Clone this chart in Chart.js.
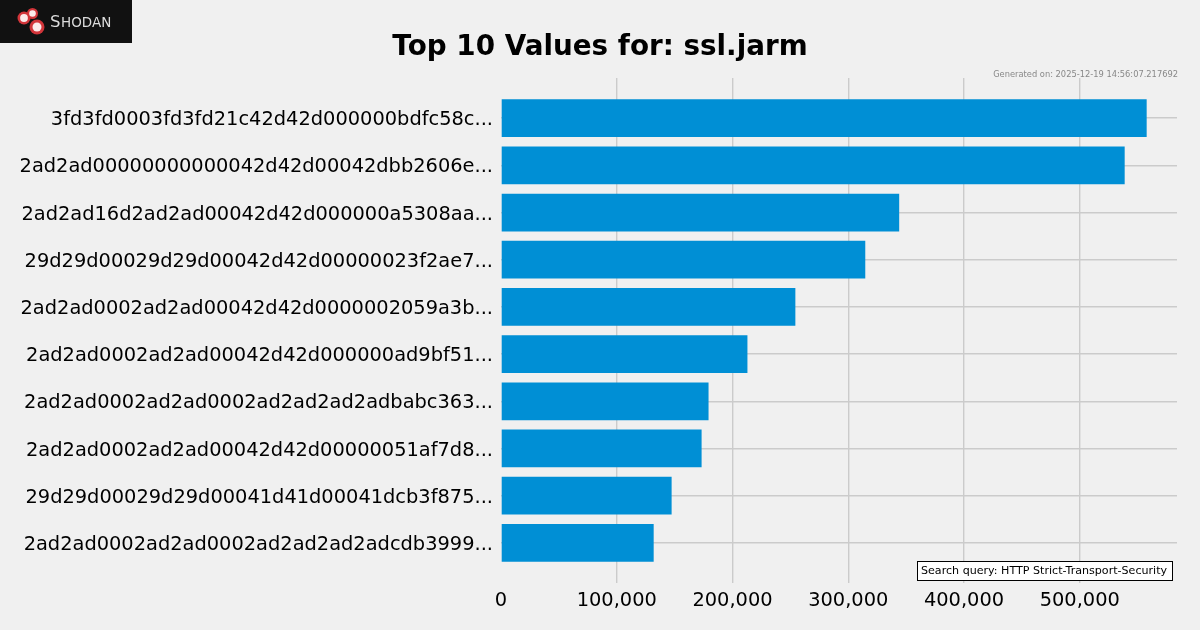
<!DOCTYPE html>
<html>
<head>
<meta charset="utf-8">
<script src="https://cdn.jsdelivr.net/npm/chart.js@4.4.1/dist/chart.umd.min.js"></script>
<style>
  html, body { margin: 0; padding: 0; background: #f0f0f0; }
  canvas { display: block; }
</style>
</head>
<body>
<canvas id="chart" width="1200" height="630"></canvas>
<script>
// Datos del grafico
const jarmLabels = [
  "3fd3fd0003fd3fd21c42d42d000000bdfc58c...",
  "2ad2ad" + "000000000000" + "42d42d00042dbb2606e...",
  "2ad2ad16d2ad2ad00042d42d000000a5308aa...",
  "29d29d00029d29d00042d42d00000023f2ae7...",
  "2ad2ad0002ad2ad00042d42d0000002059a3b...",
  "2ad2ad0002ad2ad00042d42d000000ad9bf51...",
  "2ad2ad0002ad2ad0002ad2ad2ad2adbabc363...",
  "2ad2ad0002ad2ad00042d42d00000051af7d8...",
  "29d29d00029d29d00041d41d00041dcb3f875...",
  "2ad2ad0002ad2ad0002ad2ad2ad2adcdb3999..."
];
const jarmCounts = [557800, 538800, 344000, 314700, 254300, 212900, 179300, 173300, 147400, 131900];
const xTicks = [0, 100000, 200000, 300000, 400000, 500000];

const titleText = "Top 10 Values for: ssl.jarm";
const generatedText = "Generated on: 2025-12-19 14:56:07.217692";
const queryText = "Search query: HTTP Strict-Transport-Security";

const FONT = "'DejaVu Sans', sans-serif";

// Fondo, logo, titulo y textos extra
const decorPlugin = {
  id: "decor",
  beforeDraw(chart) {
    const ctx = chart.ctx;
    ctx.save();
    ctx.fillStyle = "#f0f0f0";
    ctx.fillRect(0, 0, chart.width, chart.height);
    ctx.restore();
  },
  afterDraw(chart) {
    const ctx = chart.ctx;
    ctx.save();

    // Logo Shodan
    ctx.fillStyle = "#111111";
    ctx.fillRect(0, 0, 132, 43);
    const circles = [[24, 18, 6.5], [32.5, 13.5, 5.5], [37, 27, 7.5]];
    circles.forEach(([cx, cy, r]) => {
      ctx.beginPath();
      ctx.arc(cx, cy, r, 0, Math.PI * 2);
      ctx.fillStyle = "#d2353a";
      ctx.fill();
    });
    circles.forEach(([cx, cy, r]) => {
      ctx.beginPath();
      ctx.arc(cx, cy, r * 0.6, 0, Math.PI * 2);
      ctx.fillStyle = "#fbeaea";
      ctx.fill();
    });
    ctx.fillStyle = "#dddddd";
    ctx.textBaseline = "alphabetic";
    ctx.textAlign = "left";
    ctx.font = "16.5px " + FONT;
    ctx.fillText("S", 50, 27);
    const sW = ctx.measureText("S").width;
    ctx.font = "13.5px " + FONT;
    ctx.fillText("HODAN", 50 + sW + 0.5, 27);

    // Titulo
    ctx.fillStyle = "#000";
    ctx.textAlign = "center";
    ctx.font = "bold 27.8px " + FONT;
    ctx.fillText(titleText, 600, 55);

    // Fecha de generacion
    ctx.fillStyle = "#888888";
    ctx.textAlign = "right";
    ctx.font = "8.3px " + FONT;
    ctx.fillText(generatedText, 1178, 77);

    // Caja de consulta
    ctx.font = "11.1px " + FONT;
    ctx.fillStyle = "#ffffff";
    ctx.fillRect(917.5, 561.5, 255, 19);
    ctx.strokeStyle = "#000";
    ctx.lineWidth = 1;
    ctx.strokeRect(917.5, 561.5, 255, 19);
    ctx.fillStyle = "#000";
    ctx.textAlign = "left";
    ctx.textBaseline = "middle";
    ctx.fillText(queryText, 921, 571);

    ctx.restore();
  }
};

const ctx = document.getElementById("chart");

new Chart(ctx, {
  type: "bar",
  data: {
    datasets: [{
      label: "Count",
      data: jarmCounts.map((v, i) => ({ x: v, y: i })),
      backgroundColor: "#008fd5",
      borderWidth: 0,
      categoryPercentage: 0.8,
      barPercentage: 1.0,
    }],
  },
  options: {
    indexAxis: "y",
    responsive: false,
    animation: false,
    devicePixelRatio: 1,
    layout: { padding: { left: 0, right: 23, top: 78, bottom: 0 } },
    plugins: {
      legend: { display: false },
      tooltip: { enabled: false },
      title: { display: false },
    },
    scales: {
      x: {
        type: "linear",
        min: 0,
        max: 584000,
        border: { display: false },
        grid: {
          // sin linea en el cero
          color: (c) => (c.tick && c.tick.value === 0 ? "rgba(0,0,0,0)" : "#cbcbcb"),
          lineWidth: 1.4,
          drawTicks: false,
        },
        afterBuildTicks(scale) {
          scale.ticks = xTicks.map((v) => ({ value: v }));
        },
        afterFit(scale) { scale.height = 47; },
        ticks: {
          padding: 6,
          color: "#000",
          font: { family: FONT, size: 19.4 },
          callback: (v) => Number(v).toLocaleString("en-US"),
        },
      },
      y: {
        type: "linear",
        reverse: true,
        offset: false,
        min: -0.85,
        max: 9.85,
        border: { display: false },
        grid: { color: "#cbcbcb", lineWidth: 1.4, drawTicks: false, offset: false },
        afterBuildTicks(scale) {
          scale.ticks = jarmLabels.map((_, i) => ({ value: i }));
        },
        afterFit(scale) { scale.width = 501; },
        ticks: {
          padding: 8,
          labelOffset: 2,
          autoSkip: false,
          color: "#000",
          font: { family: FONT, size: 19.4 },
          callback: (v) => jarmLabels[v],
        },
      },
    },
  },
  plugins: [decorPlugin],
});
</script>
</body>
</html>
